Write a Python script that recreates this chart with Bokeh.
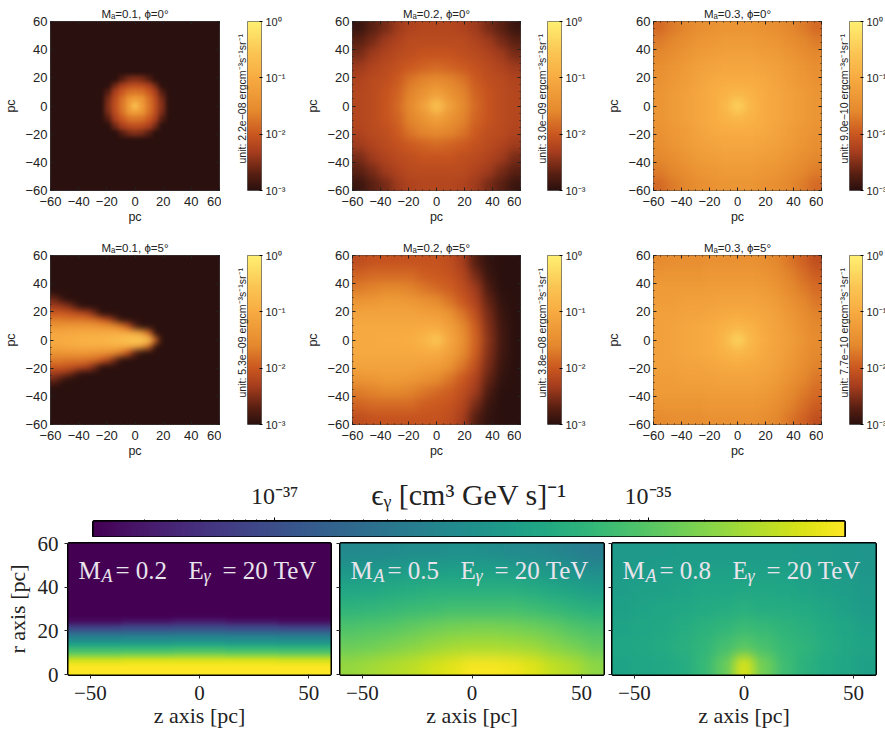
import numpy as np
from bokeh.plotting import figure
from bokeh.layouts import column, row
from bokeh.document import Document
from bokeh.models import (CustomJS, FixedTicker, Label, LinearAxis, LinearColorMapper, Range1d)
from bokeh.palettes import Viridis256
from bokeh.embed import file_html
from bokeh.resources import INLINE

# ---- top grid: log10 of normalised emissivity
P1_QUAD = [
 [-0.7,-1.25,-1.75,-2.1,-2.5,-3.0],
 [-1.25,-1.4,-1.8,-2.15,-2.55,-3.0],
 [-1.75,-1.8,-2.0,-2.3,-2.75,-3.0],
 [-2.1,-2.15,-2.3,-2.6,-3.0,-3.0],
 [-2.5,-2.55,-2.75,-3.0,-3.0,-3.0],
 [-3.0,-3.0,-3.0,-3.0,-3.0,-3.0],
]
P2_QUAD = [
 [-0.6,-1.2,-1.55,-1.85,-2.05,-2.15,-2.2],
 [-1.2,-1.42,-1.62,-1.9,-2.05,-2.15,-2.2],
 [-1.55,-1.62,-1.75,-1.97,-2.1,-2.15,-2.25],
 [-1.85,-1.9,-1.97,-2.07,-2.15,-2.25,-2.35],
 [-2.05,-2.05,-2.1,-2.15,-2.25,-2.35,-2.55],
 [-2.15,-2.15,-2.15,-2.25,-2.35,-2.55,-2.7],
 [-2.2,-2.2,-2.25,-2.35,-2.55,-2.7,-2.9],
]
P3_QUAD = [
 [-0.4,-0.8,-1.0,-1.1,-1.2,-1.3,-1.4],
 [-0.8,-0.9,-1.0,-1.1,-1.2,-1.3,-1.4],
 [-1.0,-1.0,-1.05,-1.15,-1.25,-1.35,-1.45],
 [-1.1,-1.1,-1.15,-1.2,-1.3,-1.4,-1.5],
 [-1.2,-1.2,-1.25,-1.3,-1.4,-1.5,-1.6],
 [-1.3,-1.3,-1.35,-1.4,-1.5,-1.6,-1.7],
 [-1.4,-1.4,-1.45,-1.5,-1.6,-1.7,-1.85],
]
P4_HALF = [
 [-1.0,-1.0,-0.95,-0.95,-0.9,-0.9,-0.85,-0.85,-0.8,-0.75,-0.7,-0.6,-0.55,-0.5,-0.6,-1.9],
 [-1.1,-1.1,-1.05,-1.05,-1.0,-1.0,-1.0,-1.0,-1.0,-0.95,-0.95,-0.95,-1.0,-1.3,-1.9,-3],
 [-1.4,-1.4,-1.35,-1.35,-1.35,-1.35,-1.4,-1.45,-1.5,-1.6,-1.8,-2.1,-2.7,-3,-3,-3],
 [-1.7,-1.7,-1.75,-1.75,-1.75,-1.8,-1.85,-2.0,-2.2,-2.6,-3,-3,-3,-3,-3,-3],
 [-2.0,-2.0,-2.05,-2.1,-2.2,-2.3,-2.6,-3,-3,-3,-3,-3,-3,-3,-3,-3],
 [-2.35,-2.4,-2.5,-2.7,-3,-3,-3,-3,-3,-3,-3,-3,-3,-3,-3,-3],
 [-2.6,-2.85,-3,-3,-3,-3,-3,-3,-3,-3,-3,-3,-3,-3,-3,-3],
 [-3,-3,-3,-3,-3,-3,-3,-3,-3,-3,-3,-3,-3,-3,-3,-3],
]
P5_HALF = [
 [-1.05,-1.05,-1.0,-1.0,-0.95,-0.85,-0.55,-1.1,-1.45,-1.9,-2.45,-2.85,-3],
 [-1.05,-1.05,-1.05,-1.05,-1.05,-1.0,-1.0,-1.2,-1.55,-1.95,-2.5,-2.85,-3],
 [-1.15,-1.15,-1.15,-1.15,-1.15,-1.2,-1.25,-1.4,-1.75,-2.1,-2.55,-2.9,-3],
 [-1.4,-1.35,-1.3,-1.3,-1.35,-1.45,-1.55,-1.75,-2.0,-2.25,-2.65,-2.95,-3],
 [-1.7,-1.65,-1.6,-1.6,-1.65,-1.75,-1.85,-1.95,-2.1,-2.35,-2.8,-3,-3],
 [-1.9,-1.85,-1.85,-1.85,-1.85,-1.95,-2.0,-2.05,-2.2,-2.55,-2.9,-3,-3],
 [-2.1,-2.05,-2.05,-2.05,-2.05,-2.05,-2.05,-2.1,-2.3,-2.75,-2.95,-3,-3],
]
P6_HALF = [
 [-1.2,-1.15,-1.1,-1.05,-1.0,-0.8,-0.35,-0.8,-1.0,-1.15,-1.25,-1.4,-1.55],
 [-1.2,-1.15,-1.1,-1.05,-1.0,-0.9,-0.8,-0.9,-1.05,-1.15,-1.3,-1.45,-1.6],
 [-1.2,-1.2,-1.15,-1.15,-1.1,-1.05,-1.0,-1.05,-1.1,-1.2,-1.35,-1.5,-1.65],
 [-1.25,-1.25,-1.2,-1.2,-1.2,-1.15,-1.15,-1.15,-1.2,-1.3,-1.45,-1.6,-1.75],
 [-1.3,-1.3,-1.3,-1.3,-1.25,-1.25,-1.25,-1.25,-1.3,-1.4,-1.55,-1.7,-1.85],
 [-1.4,-1.4,-1.4,-1.4,-1.35,-1.35,-1.35,-1.35,-1.4,-1.5,-1.65,-1.8,-1.95],
 [-1.55,-1.5,-1.5,-1.5,-1.45,-1.45,-1.45,-1.45,-1.5,-1.6,-1.75,-1.9,-2.1],
]
TOP_TITLES = ["Mₐ=0.1, ϕ=0°", "Mₐ=0.2, ϕ=0°", "Mₐ=0.3, ϕ=0°", "Mₐ=0.1, ϕ=5°", "Mₐ=0.2, ϕ=5°", "Mₐ=0.3, ϕ=5°"]
TOP_UNITS = ["2.2e−08", "3.0e−09", "9.0e−10", "5.3e−09", "3.8e−08", "7.7e−10"]
TOP_TICKS = [-60, -40, -20, 0, 20, 40, 60]
CB_TICKS = {0: "10⁰", -1: "10⁻¹", -2: "10⁻²", -3: "10⁻³"}

# ---- bottom row: position along the colour bar (0 = left end, 1 = right end)
LOG_MIN, LOG_MAX = -37.97, -33.95
B1_FRAC = [
 [1,1,1,1,1],[1,1,1,1,1],[.94,.95,.95,.95,.94],[.8,.81,.82,.81,.8],[.69,.69,.7,.69,.68],
 [.57,.57,.58,.57,.56],[.46,.47,.48,.47,.46],[.34,.35,.36,.35,.34],[.2,.22,.23,.22,.2],
 [.04,.07,.09,.07,.04],[0,0,.01,0,0],
]
B2_FRAC = [
 [.84,.86,.88,.9,.93,.96,.99,.99,.98,.95,.91,.88,.83],
 [.77,.78,.8,.82,.84,.86,.87,.87,.86,.85,.82,.79,.76],
 [.72,.73,.74,.76,.78,.79,.8,.8,.79,.78,.76,.73,.71],
 [.65,.66,.67,.68,.69,.7,.7,.7,.7,.69,.67,.65,.63],
 [.59,.6,.61,.62,.63,.63,.63,.63,.63,.62,.6,.58,.56],
 [.53,.54,.55,.56,.56,.57,.57,.57,.56,.55,.53,.51,.49],
 [.47,.48,.48,.49,.49,.5,.5,.49,.48,.47,.46,.44,.42],
]
B3_FRAC = [
 [.58,.59,.6,.62,.67,.76,.94,.78,.69,.64,.61,.59,.57],
 [.59,.6,.61,.63,.66,.7,.74,.71,.67,.65,.62,.6,.58],
 [.58,.59,.6,.62,.64,.66,.68,.67,.65,.63,.61,.59,.57],
 [.57,.58,.59,.6,.61,.62,.63,.62,.62,.61,.59,.57,.55],
 [.56,.57,.57,.58,.59,.59,.6,.6,.59,.58,.57,.56,.54],
 [.55,.55,.56,.56,.57,.57,.57,.57,.57,.56,.55,.54,.53],
 [.54,.54,.54,.55,.55,.55,.55,.55,.55,.54,.54,.53,.52],
]
BOTTOM_MACH = ["= 0.2", "= 0.5", "= 0.8"]
BOTTOM_XTICKS = [-50, 0, 50]
BOTTOM_YTICKS = [0, 20, 40, 60]
BAR_DECADES = [-38, -37, -36, -35, -34]

# ---- colormap of the top grid
ANCHOR_POS = [0, .1, .23, .33, .47, .67, .83, 1]
ANCHOR_RGB = [(42,16,14),(90,32,18),(168,62,30),(201,86,31),(229,138,46),(248,172,66),(251,200,85),(255,240,114)]
HOT = ["#%02x%02x%02x" % tuple(int(round(np.interp(t, ANCHOR_POS, [c[k] for c in ANCHOR_RGB]))) for k in range(3))
       for t in np.linspace(0, 1, 256)]
hot_mapper = LinearColorMapper(palette=HOT, low=-3, high=0)
vir_mapper = LinearColorMapper(palette=Viridis256, low=LOG_MIN, high=LOG_MAX)

SANS = "Liberation Sans"
SERIF = "Liberation Serif"
SANS_COL = "#222222"


def quad_to_full(q, n=13, bg=-3.0):
    a = np.full((n, n), bg)
    q = np.array(q, dtype=float)
    a[:q.shape[0], :q.shape[1]] = q
    right = np.hstack([a[:, :0:-1], a])
    return np.vstack([right[:0:-1], right])


def half_to_full(h, ncol=13, nrow=7, bg=-3.0):
    a = np.full((nrow, ncol), bg)
    h = np.array(h, dtype=float)
    a[:h.shape[0], :h.shape[1]] = h
    return np.vstack([a[:0:-1], a])


P4_FULL = half_to_full(P4_HALF, ncol=25, nrow=13)
TOP_IMAGES = [quad_to_full(P1_QUAD), quad_to_full(P2_QUAD, n=7), quad_to_full(P3_QUAD, n=7),
              P4_FULL, half_to_full(P5_HALF), half_to_full(P6_HALF)]


def draw_padded(p, img, x, y, dw, dh, mapper, k=3):
    """Repeat the edge cells outside the axes so the display blur has no pale rim."""
    ny, nx = img.shape
    cw, ch = dw / nx, dh / ny
    p.image(image=[np.pad(img, k, mode="edge")], x=x - k * cw, y=y - k * ch,
            dw=dw + 2 * k * cw, dh=dh + 2 * k * ch, color_mapper=mapper)


def top_panel(img, title, x0, x1, fl, fr, ft, fb, y0, y1):
    p = figure(width=x1 - x0, height=y1 - y0, frame_width=fr - fl, frame_height=fb - ft,
               min_border_left=fl - x0, min_border_right=x1 - fr, min_border_top=ft - y0, min_border_bottom=y1 - fb,
               x_range=Range1d(-60, 60), y_range=Range1d(-60, 60), toolbar_location=None,
               output_backend="svg", x_axis_label="pc", y_axis_label="pc", title=title)
    p.title.align = "center"
    p.title.text_font = SANS
    p.title.text_font_size = "11.5px"
    p.title.text_font_style = "normal"
    p.title.text_color = SANS_COL
    p.title.standoff = 4
    p.title.offset = 0
    draw_padded(p, img, -60, -60, 120, 120, hot_mapper)
    p.grid.visible = False
    p.outline_line_color = "#444444"
    p.outline_line_width = 1
    minors = [t for t in range(-60, 61, 5)]
    labels = {t: str(t).replace("-", "−") for t in TOP_TICKS}
    for ax in (p.xaxis[0], p.yaxis[0]):
        ax.ticker = FixedTicker(ticks=TOP_TICKS, minor_ticks=minors)
        ax.major_label_overrides = labels
        ax.major_label_text_font = SANS
        ax.major_label_text_font_size = "13px"
        ax.major_label_text_color = SANS_COL
        ax.axis_label_text_font = SANS
        ax.axis_label_text_font_size = "12.5px"
        ax.axis_label_text_font_style = "normal"
        ax.axis_label_text_color = SANS_COL
        ax.major_tick_in, ax.major_tick_out = 3, 0
        ax.minor_tick_in, ax.minor_tick_out = 1, 0
        ax.major_tick_line_color = ax.minor_tick_line_color = "#222222"
        ax.axis_line_color = None
    p.xaxis[0].major_label_standoff = 6
    p.yaxis[0].major_label_standoff = 3
    p.yaxis[0].major_label_orientation = "horizontal"
    p.xaxis[0].axis_label_standoff = 1
    p.yaxis[0].axis_label_standoff = 4
    for side in ("right", "above"):
        ax = LinearAxis(ticker=FixedTicker(ticks=TOP_TICKS, minor_ticks=minors),
                        major_label_overrides={t: "" for t in TOP_TICKS},
                        major_label_text_font_size="1px", major_label_standoff=0,
                        major_tick_in=3, major_tick_out=0, minor_tick_in=1, minor_tick_out=0,
                        major_tick_line_color="#222222", minor_tick_line_color="#222222", axis_line_color=None)
        p.add_layout(ax, side)
    return p


def top_colorbar(unit, x0, x1, fl, fr, ft, fb, y0, y1):
    p = figure(width=x1 - x0, height=y1 - y0, frame_width=fr - fl, frame_height=fb - ft,
               min_border_left=fl - x0, min_border_right=x1 - fr, min_border_top=ft - y0, min_border_bottom=y1 - fb,
               x_range=Range1d(0, 1), y_range=Range1d(-3, 0), toolbar_location=None, output_backend="svg",
               x_axis_location=None, y_axis_location="right")
    grad = np.linspace(-3, 0, 256).reshape(-1, 1)
    p.image(image=[grad], x=0, y=-3, dw=1, dh=3, color_mapper=hot_mapper)
    p.grid.visible = False
    p.outline_line_color = "#666666"
    ax = p.yaxis[0]
    ax.ticker = FixedTicker(ticks=list(CB_TICKS))
    ax.major_label_overrides = CB_TICKS
    ax.major_label_text_font = SANS
    ax.major_label_text_font_size = "11px"
    ax.major_label_text_color = SANS_COL
    ax.major_label_standoff = 3
    ax.major_tick_in, ax.major_tick_out = 2, 1
    ax.minor_tick_line_color = None
    ax.axis_line_color = None
    lab = LinearAxis(ticker=FixedTicker(ticks=[]), axis_line_color=None, major_tick_line_color=None,
                     minor_tick_line_color=None, major_label_text_font_size="1px", major_label_standoff=0,
                     axis_label="\u00a0" * 5 + f"unit: {unit} ergcm⁻³s⁻¹sr⁻¹", axis_label_standoff=0,
                     axis_label_text_font=SANS, axis_label_text_font_size="10.5px",
                     axis_label_text_font_style="normal", axis_label_text_color=SANS_COL)
    p.add_layout(lab, "left")
    return p


def bottom_panel(frac, mach, x0, x1, fl, fr, with_labels):
    y0, y1, ft, fb = 528, 729, 543, 674
    p = figure(width=x1 - x0, height=y1 - y0, frame_width=fr - fl, frame_height=fb - ft,
               min_border_left=fl - x0, min_border_right=x1 - fr, min_border_top=ft - y0, min_border_bottom=y1 - fb,
               x_range=Range1d(-60, 60), y_range=Range1d(0, 60), toolbar_location=None, output_backend="svg",
               border_fill_color=None,
               x_axis_label="z axis [pc]", y_axis_label="r axis [pc]" if with_labels else None)
    img = LOG_MIN + np.array(frac, dtype=float) * (LOG_MAX - LOG_MIN)
    if img.shape[1] == 5:
        pad = np.full((24, 5), LOG_MIN)
        pad[:img.shape[0]] = img
        img = pad
    draw_padded(p, img, -60, 0, 120, 60, vir_mapper)
    p.grid.visible = False
    p.outline_line_color = "black"
    p.outline_line_width = 3
    xa, ya = p.xaxis[0], p.yaxis[0]
    xa.ticker = FixedTicker(ticks=BOTTOM_XTICKS)
    xa.major_label_overrides = {t: str(t).replace("-", "−") for t in BOTTOM_XTICKS}
    ya.ticker = FixedTicker(ticks=BOTTOM_YTICKS)
    for ax in (xa, ya):
        ax.major_label_text_font = SERIF
        ax.major_label_text_font_size = "21px"
        ax.major_label_text_color = "#222222"
        ax.axis_label_text_font = SERIF
        ax.axis_label_text_font_size = "22px"
        ax.axis_label_text_font_style = "normal"
        ax.axis_label_text_color = "#222222"
        ax.major_tick_in, ax.major_tick_out = 0, 4
        ax.minor_tick_line_color = None
        ax.axis_line_color = None
        ax.major_tick_line_color = "#222222"
    xa.major_label_standoff = 7
    xa.axis_label_standoff = 0
    if with_labels:
        ya.major_label_standoff = 6
        ya.axis_label_standoff = 5
    else:
        ya.major_label_overrides = {t: "" for t in BOTTOM_YTICKS}
        ya.major_label_text_font_size = "1px"
        ya.major_label_standoff = 0
    txt = "#e9e4ec"
    for off, s, sz, yo, st in [(10, "M", 25, -27, "normal"), (33, "A", 18, -32, "italic"), (47, mach, 25, -27, "normal"),
                               (120, "E", 25, -27, "normal"), (135, "γ", 18, -32, "italic"), (154, "= 20 TeV", 25, -27, "normal")]:
        p.add_layout(Label(x=-60, y=60, x_offset=off, y_offset=yo, text=s, text_font=SERIF, text_font_style=st,
                           text_font_size=f"{sz}px", text_color=txt, text_baseline="alphabetic"))
    return p


# ---- top colour scale of the bottom row
bar = figure(width=885, height=67, frame_width=751, frame_height=15,
             min_border_left=93, min_border_right=41, min_border_top=51, min_border_bottom=1,
             x_range=Range1d(LOG_MIN, LOG_MAX), y_range=Range1d(0, 1), toolbar_location=None, output_backend="svg",
             x_axis_location="above", y_axis_location=None)
bar.image(image=[np.linspace(LOG_MIN, LOG_MAX, 256).reshape(1, -1)], x=LOG_MIN, y=0, dw=LOG_MAX - LOG_MIN, dh=1, color_mapper=vir_mapper)
bar.grid.visible = False
bar.outline_line_color = "black"
bar.outline_line_width = 3
bax = bar.xaxis[0]
bar_minor = [d + np.log10(m) for d in BAR_DECADES for m in range(2, 10) if LOG_MIN < d + np.log10(m) < LOG_MAX]
bax.ticker = FixedTicker(ticks=[-37, -35], minor_ticks=bar_minor)
bax.major_label_overrides = {-37: "10⁻³⁷", -35: "10⁻³⁵"}
bax.major_label_text_font = SERIF
bax.major_label_text_font_size = "24px"
bax.major_label_text_color = "#222222"
bax.major_label_standoff = 9
bax.major_tick_in, bax.major_tick_out = 0, 4
bax.minor_tick_in, bax.minor_tick_out = 0, 2
bax.axis_line_color = None
bax.axis_label = "ϵᵧ [cm³ GeV s]⁻¹"
bax.axis_label_text_font = SERIF
bax.axis_label_text_font_size = "30px"
bax.axis_label_text_font_style = "normal"
bax.axis_label_text_color = "#222222"
bax.axis_label_standoff = -31

TOP_EDGES = [(0, 221, 50, 219), (302, 521, 352, 520), (602, 823, 653, 821)]
BAR_EDGES = [(221, 302, 247, 261), (521, 602, 547, 561), (823, 885, 849, 862)]


def top_row(first, ft, fb, y0, y1):
    kids = []
    for i in range(3):
        kids.append(top_panel(TOP_IMAGES[first + i], TOP_TITLES[first + i], *TOP_EDGES[i], ft, fb, y0, y1))
        kids.append(top_colorbar(TOP_UNITS[first + i], *BAR_EDGES[i], ft, fb, y0, y1))
    return row(*kids, spacing=0)


r1 = top_row(0, 21, 190, 0, 235)
r2 = top_row(3, 255, 424, 235, 470)
r4 = row(
    bottom_panel(B1_FRAC, BOTTOM_MACH[0], 0, 332, 68, 330, True),
    bottom_panel(B2_FRAC, BOTTOM_MACH[1], 332, 605, 340, 603, False),
    bottom_panel(B3_FRAC, BOTTOM_MACH[2], 605, 885, 612, 875, False),
    spacing=0, margin=(-9, 0, 0, 0))
root = column(r1, r2, bar, r4, spacing=0)

# display blur per <image>, in page order; 0 keeps the colour bars sharp.  Values stay as read.
BLUR_PX = [2, 0, 4.5, 0, 4.5, 0, 3, 0, 5, 0, 5, 0, 0, 2, 7, 6]
SMOOTH_JS = """
const blur = %s;
function collect(node, out) {
  node.querySelectorAll('*').forEach(function (el) {
    if (el.tagName.toLowerCase() === 'image') out.push(el);
    if (el.shadowRoot) collect(el.shadowRoot, out);
  });
  return out;
}
function apply() {
  collect(document, []).forEach(function (el, i) {
    if (blur[i]) el.style.filter = 'blur(' + blur[i] + 'px)';
  });
}
[0, 50, 200, 600, 1200, 2500].forEach(function (t) { setTimeout(apply, t); });
""" % BLUR_PX
doc = Document()
doc.add_root(root)
doc.js_on_event("document_ready", CustomJS(code=SMOOTH_JS))
open("out.html", "w").write(file_html(doc, INLINE))
